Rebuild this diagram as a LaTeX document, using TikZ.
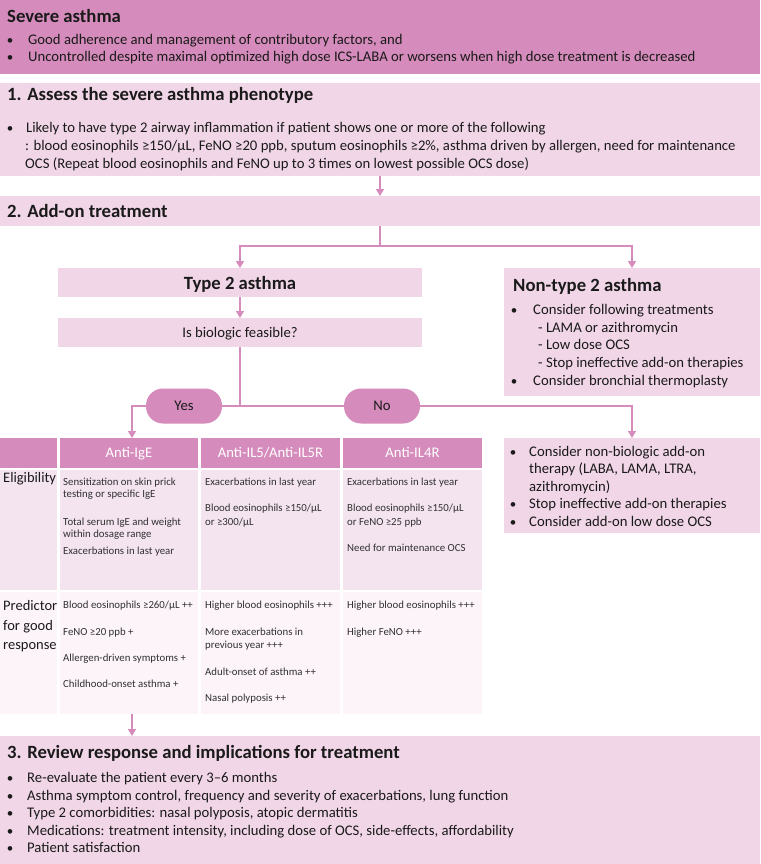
\documentclass[tikz,border=0pt]{standalone}
\usepackage{fontspec}
\setmainfont{Carlito}
\usetikzlibrary{arrows.meta,calc}
\definecolor{dpink}{HTML}{D58BBB}
\definecolor{lpink}{HTML}{F1D6E8}
\definecolor{epink}{HTML}{F4E4F0}
\definecolor{ppink}{HTML}{FCF4F9}
\definecolor{txt}{HTML}{1A1A1A}
\tikzset{
  box/.style={draw=none, inner sep=0pt, outer sep=0pt, anchor=north west},
  body/.style={font=\fontsize{14.7}{17}\selectfont, text=txt, inner sep=0pt, anchor=base west},
  bul/.style={font=\fontsize{13}{16}\selectfont, text=txt, inner sep=0pt, anchor=base},
  ttl/.style={font=\bfseries\fontsize{18.7}{22}\selectfont, text=txt, inner sep=0pt, anchor=base west},
  small/.style={font=\fontsize{10.8}{13}\selectfont, text=txt!90, inner sep=0pt, anchor=base west},
  lab/.style={font=\fontsize{14.5}{17}\selectfont, text=txt, inner sep=0pt, anchor=base west},
  hdr/.style={font=\fontsize{14.7}{17}\selectfont, text=white, inner sep=0pt, anchor=base},
  pill/.style={fill=dpink, rounded corners=17pt, minimum width=76pt, minimum height=35pt, inner sep=0pt, font=\fontsize{14.7}{17}\selectfont, text=txt},
  ln/.style={draw=dpink, line width=1.5pt},
  arr/.style={draw=dpink, line width=1.5pt, -{Triangle[width=8pt,length=7pt]}}
}
\begin{document}
\begin{tikzpicture}[x=1pt,y=-1pt]
\path[use as bounding box, fill=white] (0,0) rectangle (760,864);

% Severe asthma
\node[box, fill=dpink, minimum width=760pt, minimum height=74pt] (sev) at (0,0) {};
\node[ttl] (sevt) at (7,23) {Severe asthma};
\node[bul] (sevb1) at (10,45) {•};
\node[body] (sevl1) at (28,45) {Good adherence and management of contributory factors, and};
\node[bul] (sevb2) at (10,62) {•};
\node[body] (sevl2) at (28,62) {Uncontrolled despite maximal optimized high dose ICS-LABA or worsens when high dose treatment is decreased};

% 1. Assess
\node[box, fill=lpink, minimum width=760pt, minimum height=93pt] (ass) at (0,83) {};
\node[ttl] (asst) at (7,101) {1. Assess the severe asthma phenotype};
\node[bul] (assb1) at (10,132) {•};
\node[body] (assl1) at (26,132) {Likely to have type 2 airway inflammation if patient shows one or more of the following};
\node[body] (assl2) at (25,150) {: blood eosinophils ≥150/μL, FeNO ≥20 ppb, sputum eosinophils ≥2\%, asthma driven by allergen, need for maintenance};
\node[body] (assl3) at (25,168) {OCS (Repeat blood eosinophils and FeNO up to 3 times on lowest possible OCS dose)};

% 2. Add-on
\node[box, fill=lpink, minimum width=760pt, minimum height=30pt] (add) at (0,196) {};
\node[ttl] (addt) at (7,217.5) {2. Add-on treatment};

% Type 2
\node[box, fill=lpink, minimum width=364pt, minimum height=29pt] (t2) at (58,268) {};
\node[font=\bfseries\fontsize{18.7}{22}\selectfont, text=txt, inner sep=0pt, anchor=base] (t2t) at (240,289) {Type 2 asthma};
\node[box, fill=lpink, minimum width=364pt, minimum height=29pt] (bio) at (58,318) {};
\node[font=\fontsize{14.7}{17}\selectfont, text=txt, inner sep=0pt, anchor=base] (biot) at (240,337) {Is biologic feasible?};

% Non-type 2
\node[box, fill=lpink, minimum width=256pt, minimum height=128pt] (nt2) at (504,268) {};
\node[ttl] (nt2t) at (513,291) {Non-type 2 asthma};
\node[bul] (nt2b1) at (514,314) {•};
\node[body] (nt2l1) at (533,314) {Consider following treatments};
\node[body] (nt2l2) at (538,332) {- LAMA or azithromycin};
\node[body] (nt2l3) at (538,349) {- Low dose OCS};
\node[body] (nt2l4) at (538,367) {- Stop ineffective add-on therapies};
\node[bul] (nt2b2) at (514,385) {•};
\node[body] (nt2l5) at (533,385) {Consider bronchial thermoplasty};

% Yes / No
\node[pill] (yes) at (184,406) {Yes};
\node[pill] (no) at (382,406) {No};

% Non-biologic box
\node[box, fill=lpink, minimum width=256pt, minimum height=95pt] (nb) at (504,438) {};
\node[bul] (nbb1) at (513,456) {•};
\node[body] (nbl1) at (529,456) {Consider non-biologic add-on};
\node[body] (nbl2) at (529,473) {therapy (LABA, LAMA, LTRA,};
\node[body] (nbl3) at (529,491) {azithromycin)};
\node[bul] (nbb2) at (513,508) {•};
\node[body] (nbl4) at (529,508) {Stop ineffective add-on therapies};
\node[bul] (nbb3) at (513,526) {•};
\node[body] (nbl5) at (529,526) {Consider add-on low dose OCS};

% Table
\node[box, fill=dpink, minimum width=57pt, minimum height=30pt] (h0) at (0,438) {};
\node[box, fill=dpink, minimum width=138pt, minimum height=30pt] (h1) at (60,438) {};
\node[box, fill=dpink, minimum width=139pt, minimum height=30pt] (h2) at (201,438) {};
\node[box, fill=dpink, minimum width=139pt, minimum height=30pt] (h3) at (343,438) {};
\node[hdr] (h1t) at (129,457.5) {Anti-IgE};
\node[hdr] (h2t) at (270.5,457.5) {Anti-IL5/Anti-IL5R};
\node[hdr] (h3t) at (412.5,457.5) {Anti-IL4R};

\node[box, fill=epink, minimum width=57pt, minimum height=120pt] (e0) at (0,469.5) {};
\node[box, fill=epink, minimum width=138pt, minimum height=120pt] (e1) at (60,469.5) {};
\node[box, fill=epink, minimum width=139pt, minimum height=120pt] (e2) at (201,469.5) {};
\node[box, fill=epink, minimum width=139pt, minimum height=120pt] (e3) at (343,469.5) {};

\node[box, fill=ppink, minimum width=57pt, minimum height=122pt] (p0) at (0,591.5) {};
\node[box, fill=ppink, minimum width=138pt, minimum height=122pt] (p1) at (60,591.5) {};
\node[box, fill=ppink, minimum width=139pt, minimum height=122pt] (p2) at (201,591.5) {};
\node[box, fill=ppink, minimum width=139pt, minimum height=122pt] (p3) at (343,591.5) {};

\node[lab] (e0t) at (3,482) {Eligibility};
\node[lab] (p0t1) at (3,610) {Predictor};
\node[lab] (p0t2) at (3,630) {for good};
\node[lab] (p0t3) at (3,649) {response};

\node[small] (e1a) at (63,485) {Sensitization on skin prick};
\node[small] (e1b) at (63,497.5) {testing or specific IgE};
\node[small] (e1c) at (63,525) {Total serum IgE and weight};
\node[small] (e1d) at (63,537.5) {within dosage range};
\node[small] (e1e) at (63,554.5) {Exacerbations in last year};

\node[small] (e2a) at (205,485) {Exacerbations in last year};
\node[small] (e2b) at (205,511) {Blood eosinophils ≥150/μL};
\node[small] (e2c) at (205,525) {or ≥300/μL};

\node[small] (e3a) at (347,485) {Exacerbations in last year};
\node[small] (e3b) at (347,511) {Blood eosinophils ≥150/μL};
\node[small] (e3c) at (347,525) {or FeNO ≥25 ppb};
\node[small] (e3d) at (347,551.5) {Need for maintenance OCS};

\node[small] (p1a) at (63,608) {Blood eosinophils ≥260/μL ++};
\node[small] (p1b) at (63,635) {FeNO ≥20 ppb +};
\node[small] (p1c) at (63,661) {Allergen-driven symptoms +};
\node[small] (p1d) at (63,687) {Childhood-onset asthma +};

\node[small] (p2a) at (205,608) {Higher blood eosinophils +++};
\node[small] (p2b) at (205,635) {More exacerbations in};
\node[small] (p2c) at (205,648) {previous year +++};
\node[small] (p2d) at (205,675) {Adult-onset of asthma ++};
\node[small] (p2e) at (205,701) {Nasal polyposis ++};

\node[small] (p3a) at (347,608) {Higher blood eosinophils +++};
\node[small] (p3b) at (347,635) {Higher FeNO +++};

% 3. Review
\node[box, fill=lpink, minimum width=760pt, minimum height=128pt] (rev) at (0,736) {};
\node[ttl] (revt) at (7,758.5) {3. Review response and implications for treatment};
\node[bul] (revb1) at (10,782) {•};
\node[body] (revl1) at (27,782) {Re-evaluate the patient every 3–6 months};
\node[bul] (revb2) at (10,800) {•};
\node[body] (revl2) at (27,800) {Asthma symptom control, frequency and severity of exacerbations, lung function};
\node[bul] (revb3) at (10,817) {•};
\node[body] (revl3) at (27,817) {Type 2 comorbidities: nasal polyposis, atopic dermatitis};
\node[bul] (revb4) at (10,835) {•};
\node[body] (revl4) at (27,835) {Medications: treatment intensity, including dose of OCS, side-effects, affordability};
\node[bul] (revb5) at (10,852) {•};
\node[body] (revl5) at (27,852) {Patient satisfaction};

% Connectors
\draw[arr] (ass.south) -- (add.north);
\coordinate (split) at (380,246);
\draw[ln] (add.south) -- (split);
\draw[arr] (split) -| (t2.north);
\draw[arr] (split) -| (nt2.north);
\draw[arr] (t2.south) -- (bio.north);
\draw[ln] (bio.south) -- (bio.south |- yes.east);
\draw[ln] (yes.east) -- (no.west);
\draw[arr] (yes.west) -| ([xshift=3pt]h1.north);
\draw[arr] (no.east) -| (nb.north);
\draw[arr] ([xshift=3pt]p1.south) -- ([xshift=3pt]p1.south |- rev.north);
\end{tikzpicture}
\end{document}
